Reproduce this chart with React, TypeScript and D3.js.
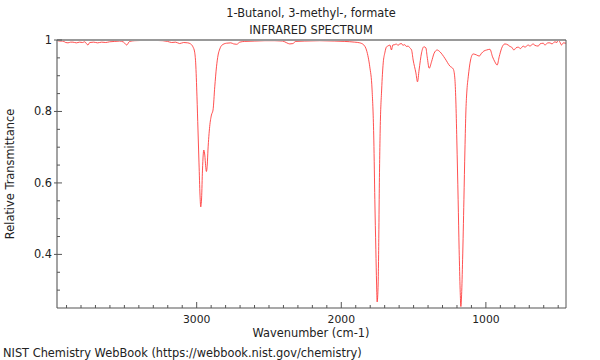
import React from "react";
import * as d3 from "d3";

const title1 = "1-Butanol, 3-methyl-, formate";
const title2 = "INFRARED SPECTRUM";
const xLabel = "Wavenumber (cm-1)";
const yLabel = "Relative Transmittance";
const footer = "NIST Chemistry WebBook (https://webbook.nist.gov/chemistry)";

const xMajorTicks = [3000, 2000, 1000];
const yMajorTicks = [0.4, 0.6, 0.8, 1];

const wavenumber = [
  3966, 3948, 3925, 3906, 3890, 3872, 3856, 3832, 3810, 3789, 3775, 3752, 3740, 3712, 3685, 3657,
  3629, 3602, 3567, 3532, 3505, 3484, 3464, 3429, 3360, 3291, 3235, 3201, 3173, 3145, 3118, 3090,
  3062, 3042, 3026, 3014, 3007, 2998, 2991, 2984, 2977, 2972, 2966, 2960, 2955, 2951, 2944, 2938,
  2933, 2927, 2922, 2910, 2898, 2887, 2875, 2863, 2852, 2840, 2827, 2794, 2764, 2744, 2723, 2702,
  2668, 2598, 2529, 2460, 2405, 2377, 2356, 2335, 2315, 2253, 2149, 2045, 1976, 1907, 1872, 1844,
  1826, 1813, 1803, 1787, 1775, 1768, 1761, 1756, 1752, 1745, 1740, 1738, 1731, 1721, 1710, 1699,
  1687, 1678, 1664, 1653, 1644, 1630, 1618, 1609, 1595, 1583, 1574, 1561, 1550, 1538, 1526, 1514,
  1503, 1484, 1473, 1462, 1445, 1429, 1415, 1406, 1392, 1376, 1358, 1337, 1318, 1284, 1249, 1226,
  1215, 1208, 1201, 1192, 1185, 1178, 1173, 1168, 1161, 1152, 1145, 1138, 1131, 1122, 1106, 1088,
  1064, 1046, 1030, 1014, 995, 972, 954, 938, 922, 908, 891, 869, 846, 834, 822, 806,
  792, 776, 761, 742, 730, 707, 696, 673, 661, 638, 626, 603, 592, 571, 557, 543,
  523, 509, 500, 488, 477, 464, 446,
];

const transmittance = [
  0.999, 0.997, 0.997, 0.993, 0.992, 0.994, 0.994, 0.992, 0.994, 0.993, 0.995, 0.986, 0.993, 0.994, 0.992, 0.994,
  0.993, 0.995, 0.996, 0.997, 0.994, 0.986, 0.996, 0.998, 0.999, 0.999, 0.998, 0.996, 0.993, 0.994, 0.990, 0.993,
  0.992, 0.989, 0.981, 0.966, 0.936, 0.841, 0.748, 0.656, 0.566, 0.533, 0.558, 0.636, 0.678, 0.692, 0.678, 0.648,
  0.632, 0.650, 0.692, 0.758, 0.790, 0.804, 0.869, 0.925, 0.958, 0.975, 0.985, 0.991, 0.992, 0.989, 0.988, 0.994,
  0.996, 0.997, 0.998, 0.998, 0.997, 0.992, 0.989, 0.990, 0.996, 0.997, 0.998, 0.997, 0.996, 0.994, 0.992, 0.986,
  0.972, 0.950, 0.925, 0.860, 0.720, 0.553, 0.413, 0.320, 0.267, 0.320, 0.469, 0.553, 0.748, 0.860, 0.936, 0.964,
  0.981, 0.983, 0.986, 0.972, 0.986, 0.987, 0.989, 0.985, 0.989, 0.990, 0.985, 0.987, 0.982, 0.983, 0.978, 0.972,
  0.944, 0.908, 0.883, 0.916, 0.964, 0.981, 0.978, 0.953, 0.921, 0.939, 0.963, 0.972, 0.967, 0.949, 0.927, 0.919,
  0.894, 0.832, 0.720, 0.553, 0.413, 0.301, 0.254, 0.287, 0.385, 0.553, 0.692, 0.804, 0.860, 0.897, 0.944, 0.961,
  0.958, 0.955, 0.963, 0.969, 0.972, 0.974, 0.953, 0.939, 0.930, 0.953, 0.977, 0.989, 0.986, 0.982, 0.980, 0.972,
  0.978, 0.980, 0.976, 0.983, 0.980, 0.986, 0.983, 0.989, 0.985, 0.983, 0.989, 0.991, 0.986, 0.992, 0.992, 0.989,
  0.995, 0.993, 1.0, 0.994, 0.986, 0.992, 0.991,
];

const W = 600;
const H = 360;
const left = 57;
const right = 566;
const top = 40;
const bottom = 308;
const font = "DejaVu Sans, sans-serif";
const fs = 11.4;

export default function App() {
  const x = d3.scaleLinear().domain([3966, 446]).range([left, right]);
  const y = d3.scaleLinear().domain([0.25, 1]).range([bottom, top]);
  const pts: [number, number][] = wavenumber.map((w, i) => [w, transmittance[i]]);
  const line = d3
    .line<[number, number]>()
    .x((d) => x(d[0]))
    .y((d) => y(d[1]))
    .curve(d3.curveMonotoneX);
  const xMinor = d3.range(500, 4000, 100).filter((v) => v % 1000 !== 0);
  const yMinor = d3.range(0.3, 1.0, 0.05).map((v) => +v.toFixed(2)).filter((v) => !yMajorTicks.includes(v));

  return (
    <svg width={W} height={H} style={{ position: "absolute", left: 0, top: 0, background: "#fff" }}>
      <defs>
        <clipPath id="plot">
          <rect x={left} y={top} width={right - left} height={bottom - top} />
        </clipPath>
      </defs>
      <text x={311} y={17} textAnchor="middle" fontFamily={font} fontSize={fs} fill="#222">{title1}</text>
      <text x={311} y={34} textAnchor="middle" fontFamily={font} fontSize={fs} fill="#222">{title2}</text>

      <path d={line(pts) || ""} fill="none" stroke="#ff3030" strokeWidth={0.85} clipPath="url(#plot)" />

      {/* frame */}
      <line x1={left} x2={right} y1={top} y2={top} stroke="#999" strokeWidth={2} />
      <line x1={right} x2={right} y1={top} y2={bottom} stroke="#555" strokeWidth={1} />
      <line x1={left} x2={left} y1={top} y2={bottom} stroke="#666" strokeWidth={1.2} />
      <line x1={left} x2={right} y1={bottom} y2={bottom} stroke="#555" strokeWidth={1.2} />

      {xMinor.map((v) => (
        <line key={"xm" + v} x1={x(v)} x2={x(v)} y1={bottom} y2={bottom - 3} stroke="#555" />
      ))}
      {xMajorTicks.map((v) => (
        <g key={"xM" + v}>
          <line x1={x(v)} x2={x(v)} y1={bottom} y2={bottom - 6} stroke="#555" />
          <text x={x(v)} y={323} textAnchor="middle" fontFamily={font} fontSize={10.8} fill="#222">{v}</text>
        </g>
      ))}
      {yMinor.map((v) => (
        <line key={"ym" + v} x1={left} x2={left + 3} y1={y(v)} y2={y(v)} stroke="#555" />
      ))}
      {yMajorTicks.map((v) => (
        <g key={"yM" + v}>
          <line x1={left - 3} x2={left + 5} y1={y(v)} y2={y(v)} stroke="#555" />
          <text x={52} y={y(v) + 4} textAnchor="end" fontFamily={font} fontSize={fs} fill="#222">{String(v)}</text>
        </g>
      ))}

      <text x={311} y={337} textAnchor="middle" fontFamily={font} fontSize={fs} fill="#222">{xLabel}</text>
      <text transform={`translate(14,174) rotate(-90)`} textAnchor="middle" fontFamily={font} fontSize={fs} fill="#222">{yLabel}</text>
      <text x={3} y={357} fontFamily={font} fontSize={fs} fill="#222">{footer}</text>
    </svg>
  );
}
